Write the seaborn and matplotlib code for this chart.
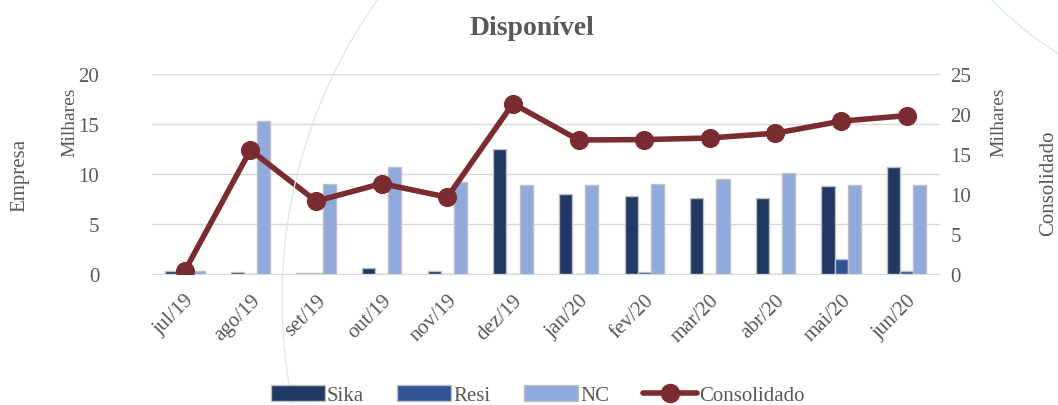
import numpy as np
import pandas as pd
import matplotlib
matplotlib.use("Agg")
import matplotlib.pyplot as plt
from matplotlib.patches import Arc
from matplotlib.lines import Line2D
from matplotlib.patches import Patch
import seaborn as sns

# dados (milhares)
meses = ['jul/19', 'ago/19', 'set/19', 'out/19', 'nov/19', 'dez/19',
         'jan/20', 'fev/20', 'mar/20', 'abr/20', 'mai/20', 'jun/20']
sika = [0.25, 0.2, 0.05, 0.6, 0.3, 12.5, 8.0, 7.8, 7.6, 7.6, 8.8, 10.7]
resi = [0.25, 0.0, 0.1, 0.0, 0.0, 0.0, 0.0, 0.2, 0.0, 0.0, 1.5, 0.3]
nc = [0.25, 15.3, 9.0, 10.7, 9.2, 8.9, 8.9, 9.0, 9.5, 10.1, 8.9, 8.9]
consolidado = [0.4, 15.5, 9.1, 11.3, 9.6, 21.3, 16.75, 16.8, 17.0, 17.6, 19.1, 19.8]

cores = {'Sika': '#1F3864', 'Resi': '#2F5597', 'NC': '#8FAADC'}
cor_linha = '#7B2C30'
cinza = '#595959'

df = pd.DataFrame({'mes': meses * 3,
                   'serie': ['Sika'] * 12 + ['Resi'] * 12 + ['NC'] * 12,
                   'valor': sika + resi + nc})

sns.set_style('white')
plt.rcParams['font.family'] = ['Liberation Serif', 'DejaVu Serif']

fig = plt.figure(figsize=(10.58, 4.06), dpi=100)
ax = fig.add_axes([0.1437, 0.3227, 0.7443, 0.4926])

# arcos decorativos de fundo
fig.patches.append(Arc((799 / 1058, 1 - 300 / 406), 2 * 517 / 1058, 2 * 517 / 406,
                       transform=fig.transFigure, color='#D8ECEF', lw=1.0, zorder=0))
fig.patches.append(Arc((1250 / 1058, 1 + 250 / 406), 2 * 360 / 1058, 2 * 360 / 406,
                       transform=fig.transFigure, color='#D8ECEF', lw=1.0, zorder=0))

sns.barplot(data=df, x='mes', y='valor', hue='serie', palette=cores, width=0.6,
            gap=0, saturation=1, edgecolor='#BFBFBF', linewidth=1, ax=ax,
            legend=False, zorder=3)
ax.set_ylim(0, 20)
ax.set_yticks([0, 5, 10, 15, 20])
ax.yaxis.grid(True, color='#D9D9D9', lw=1, zorder=0)
ax.set_axisbelow(True)
ax.set_xlabel('')
ax.set_ylabel('')
for s in ['top', 'left', 'right']:
    ax.spines[s].set_visible(False)
ax.spines['bottom'].set_color('#D9D9D9')
ax.tick_params(axis='both', length=0, labelsize=15, labelcolor=cinza)
ax.tick_params(axis='y', pad=38)
plt.setp(ax.get_xticklabels(), rotation=45, ha='right', rotation_mode='anchor')
ax.tick_params(axis='x', pad=12)
ax.set_xlim(-0.5, 11.5)

ax2 = ax.twinx()
sns.lineplot(x=np.arange(len(meses)), y=consolidado, ax=ax2, color=cor_linha, lw=4,
             marker='o', markersize=13, markeredgecolor=cor_linha, zorder=5)
ax2.set_ylim(0, 25)
ax2.set_yticks([0, 5, 10, 15, 20, 25])
for s in ['top', 'left', 'right', 'bottom']:
    ax2.spines[s].set_visible(False)
ax2.tick_params(axis='y', length=0, labelsize=15, labelcolor=cinza, pad=8)
ax2.set_ylabel('')

fig.text(0.503, 0.93, 'Disponível', ha='center', va='center', fontsize=20,
         fontweight='bold', color=cinza)
fig.text(20 / 1058, 1 - 175 / 406, 'Empresa', rotation=90, ha='center', va='center',
         fontsize=15, color=cinza)
fig.text(70 / 1058, 1 - 122 / 406, 'Milhares', rotation=90, ha='center', va='center',
         fontsize=14, color=cinza)
fig.text(999 / 1058, 1 - 122 / 406, 'Milhares', rotation=90, ha='center', va='center',
         fontsize=14, color=cinza)
fig.text(1049 / 1058, 1 - 183 / 406, 'Consolidado', rotation=90, ha='center', va='center',
         fontsize=15, color=cinza)

handles = [Patch(facecolor=cores[k], edgecolor='#BFBFBF', label=k) for k in ['Sika', 'Resi', 'NC']]
handles.append(Line2D([], [], color=cor_linha, lw=4, marker='o', markersize=13,
                      label='Consolidado'))
fig.legend(handles=handles, loc='center', bbox_to_anchor=(0.508, 1 - 396 / 406), ncol=4,
           frameon=False, fontsize=15, labelcolor=cinza, handlelength=2.6,
           handleheight=0.8, columnspacing=1.6, handletextpad=0.1)

fig.savefig('out.png', dpi=100, facecolor='white')
